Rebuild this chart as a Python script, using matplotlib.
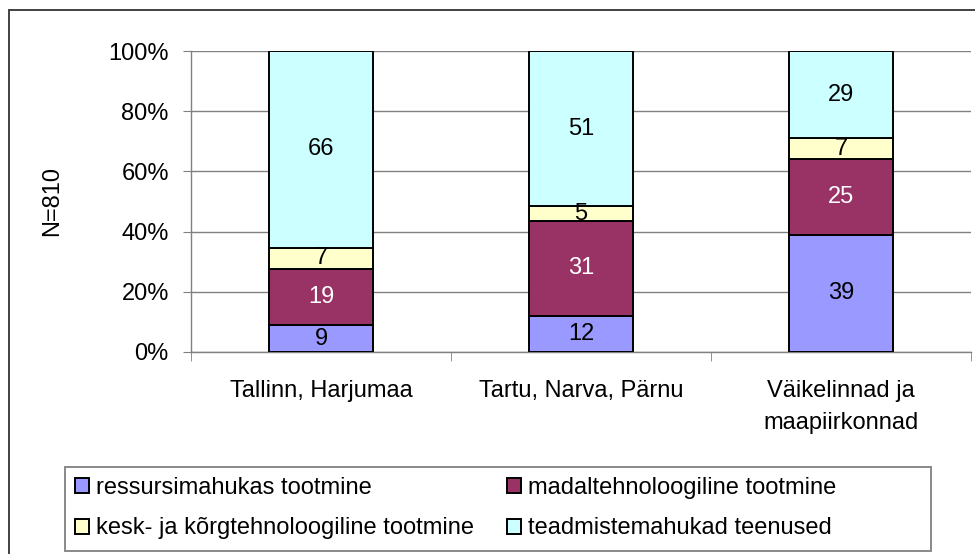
import matplotlib.pyplot as plt
from matplotlib.patches import Rectangle, Patch
import numpy as np

plt.rcParams['font.family'] = ['Liberation Sans', 'DejaVu Sans']

regions = ['Tallinn, Harjumaa', 'Tartu, Narva, Pärnu', 'Väikelinnad ja\nmaapiirkonnad']
series = ['ressursimahukas tootmine', 'madaltehnoloogiline tootmine',
          'kesk- ja kõrgtehnoloogiline tootmine', 'teadmistemahukad teenused']
ressurss = [9, 12, 39]
madal = [19, 31, 25]
kesk = [7, 5, 7]
teadmis = [66, 51, 29]

colors = ['#9999FF', '#993366', '#FFFFCC', '#CCFFFF']
label_colors = ['black', 'white', 'black', 'black']
fs = 17

data = np.array([ressurss, madal, kesk, teadmis], dtype=float)
shares = data / data.sum(axis=0) * 100

W, H = 975, 554
fig = plt.figure(figsize=(W / 100, H / 100), dpi=100)
ax = fig.add_axes([191 / W, 1 - 352 / H, (971 - 191) / W, (352 - 51) / H])

x = np.arange(len(regions))
bottom = np.zeros(len(regions))
for i in range(len(series)):
    bars = ax.bar(x, shares[i], 0.4, bottom=bottom, color=colors[i],
                  edgecolor='black', linewidth=1.4, label=series[i], zorder=3)
    for j, b in enumerate(bars):
        ax.text(b.get_x() + b.get_width() / 2, bottom[j] + shares[i][j] / 2,
                '%d' % data[i][j], ha='center', va='center', fontsize=fs,
                color=label_colors[i], zorder=4)
    bottom += shares[i]

ax.set_xlim(-0.5, 2.5)
ax.set_ylim(0, 100)
ax.set_yticks(np.arange(0, 101, 20))
ax.set_yticklabels(['%d%%' % v for v in range(0, 101, 20)], fontsize=fs)
ax.yaxis.grid(True, color='#808080', linewidth=1.0, zorder=0)
ax.set_xticks(x)
ax.set_xticklabels(regions, fontsize=fs, linespacing=1.6, va='top')
ax.set_xticks([-0.5, 0.5, 1.5, 2.5], minor=True)
ax.tick_params(axis='x', which='major', length=0, pad=20)
ax.tick_params(axis='x', which='minor', length=6.5, color='#808080', direction='out')
ax.tick_params(axis='y', length=6, color='#808080', pad=10)
for s in ['top', 'right']:
    ax.spines[s].set_visible(False)
for s in ['left', 'bottom']:
    ax.spines[s].set_color('#808080')
    ax.spines[s].set_linewidth(1.0)

fig.text(52 / W, 1 - 201 / H, 'N=810', rotation=90, ha='center', va='center', fontsize=fs)

# outer chart border
fig.add_artist(Rectangle((8.5 / W, -0.05), 1.1, 1 - 9.5 / H + 0.05, transform=fig.transFigure,
                         fill=False, edgecolor='#333333', linewidth=1.3))

# legend box
fig.add_artist(Rectangle((65 / W, 1 - 551 / H), (931 - 65) / W, (551 - 467) / H,
                         transform=fig.transFigure, fill=False, edgecolor='#808080', linewidth=1.3))
handles = [Patch(facecolor=c, edgecolor='black', linewidth=1.4) for c in colors]
for col, x0 in [(0, 75), (1, 507)]:
    idx = [col, col + 2]
    leg = fig.legend([handles[k] for k in idx], [series[k] for k in idx], ncol=1,
                     loc='upper left', bbox_to_anchor=(x0 / W, 1 - 477 / H),
                     frameon=False, fontsize=fs, handlelength=0.6, handleheight=0.6,
                     handletextpad=0.3, labelspacing=0.78, borderpad=0, borderaxespad=0)

fig.savefig('out.png', dpi=100)
